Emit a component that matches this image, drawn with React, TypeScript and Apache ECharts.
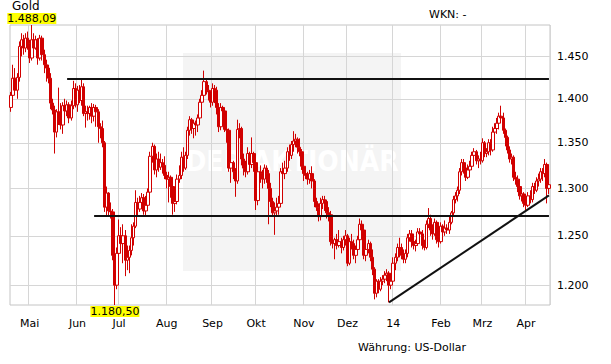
import React, { useEffect, useRef } from "react";
import * as echarts from "echarts";

// ---- data ----
const startDate = "2013-04-18";
const dayCount = 260;
const monthLabels = ["Mai", "Jun", "Jul", "Aug", "Sep", "Okt", "Nov", "Dez", "14", "Feb", "Mrz", "Apr"];
const labelMonths = [4, 5, 6, 7, 8, 9, 10, 11, 0, 1, 2, 3];
const yTicks = [1200, 1250, 1300, 1350, 1400, 1450];

const opens = [
  1390, 1404, 1424, 1410, 1425, 1462, 1470, 1460, 1472, 1465, 1448, 1470, 1460, 1470, 1448, 1472, 1452, 1440, 1436, 1424,
  1395, 1387, 1362, 1385, 1378, 1370, 1392, 1386, 1393, 1378, 1392, 1412, 1393, 1410, 1398, 1414, 1383, 1385, 1383, 1390,
  1380, 1390, 1385, 1368, 1366, 1350, 1280, 1295, 1276, 1275, 1230, 1200, 1232, 1250, 1242, 1250, 1225, 1228, 1235, 1248,
  1260, 1285, 1278, 1285, 1290, 1276, 1282, 1296, 1335, 1346, 1320, 1332, 1323, 1328, 1325, 1314, 1310, 1312, 1302, 1284,
  1286, 1310, 1314, 1334, 1322, 1336, 1364, 1376, 1366, 1372, 1370, 1378, 1396, 1404, 1420, 1410, 1408, 1396, 1412, 1410,
  1390, 1368, 1390, 1386, 1365, 1364, 1322, 1328, 1318, 1308, 1365, 1366, 1332, 1322, 1318, 1338, 1326, 1338, 1328, 1287,
  1318, 1316, 1310, 1322, 1316, 1300, 1286, 1274, 1276, 1280, 1284, 1318, 1316, 1322, 1340, 1336, 1348, 1352, 1354, 1345,
  1340, 1324, 1316, 1314, 1310, 1316, 1308, 1286, 1280, 1270, 1284, 1288, 1286, 1274, 1272, 1244, 1242, 1246, 1240, 1244,
  1238, 1246, 1250, 1222, 1244, 1242, 1230, 1236, 1246, 1262, 1256, 1230, 1236, 1242, 1228, 1216, 1192, 1204, 1196, 1204,
  1206, 1210, 1212, 1200, 1204, 1222, 1228, 1238, 1238, 1230, 1226, 1232, 1248, 1252, 1244, 1240, 1242, 1254, 1252, 1240,
  1238, 1262, 1268, 1256, 1252, 1264, 1246, 1244, 1260, 1254, 1258, 1256, 1264, 1274, 1288, 1292, 1298, 1318, 1328, 1322,
  1312, 1320, 1324, 1336, 1340, 1330, 1332, 1330, 1350, 1338, 1340, 1350, 1342, 1362, 1366, 1372, 1380, 1378, 1364, 1356,
  1342, 1332, 1334, 1312, 1310, 1302, 1292, 1294, 1284, 1282, 1292, 1288, 1302, 1298, 1308, 1310, 1318, 1316, 1326, 1300,
];
const highs = [
  1408, 1440, 1436, 1430, 1468, 1478, 1476, 1478, 1480, 1470, 1488.09, 1478, 1475, 1472, 1476, 1475, 1458, 1446, 1440, 1430,
  1400, 1392, 1388, 1413, 1395, 1396, 1400, 1398, 1396, 1398, 1421, 1418, 1415, 1416, 1424, 1418, 1392, 1392, 1392, 1395,
  1394, 1393, 1388, 1372, 1375, 1352, 1302, 1296, 1285, 1278, 1236, 1238, 1267, 1259, 1262, 1256, 1240, 1240, 1262, 1264,
  1298, 1290, 1292, 1295, 1294, 1292, 1300, 1340, 1350, 1348, 1338, 1340, 1338, 1332, 1335, 1318, 1318, 1314, 1305, 1290,
  1315, 1325, 1340, 1345, 1340, 1368, 1380, 1378, 1376, 1375, 1382, 1400, 1410, 1433, 1424, 1416, 1410, 1418, 1416, 1414,
  1395, 1395, 1392, 1388, 1370, 1366, 1332, 1330, 1322, 1376, 1372, 1368, 1338, 1330, 1345, 1340, 1356, 1340, 1330, 1322,
  1325, 1320, 1326, 1325, 1320, 1306, 1290, 1285, 1290, 1292, 1322, 1328, 1330, 1345, 1348, 1352, 1363, 1360, 1356, 1355,
  1343, 1328, 1322, 1318, 1320, 1324, 1310, 1290, 1284, 1290, 1292, 1292, 1288, 1280, 1276, 1250, 1248, 1252, 1256, 1248,
  1250, 1256, 1252, 1248, 1252, 1246, 1240, 1250, 1268, 1266, 1258, 1240, 1246, 1244, 1236, 1218, 1206, 1206, 1208, 1210,
  1214, 1216, 1214, 1206, 1228, 1232, 1242, 1248, 1242, 1236, 1236, 1252, 1256, 1256, 1248, 1246, 1258, 1258, 1256, 1246,
  1266, 1279, 1272, 1262, 1268, 1266, 1252, 1264, 1262, 1266, 1262, 1270, 1276, 1292, 1296, 1302, 1322, 1332, 1332, 1324,
  1326, 1330, 1340, 1344, 1342, 1336, 1340, 1355, 1352, 1344, 1354, 1354, 1368, 1372, 1378, 1384, 1392, 1384, 1366, 1358,
  1346, 1338, 1336, 1318, 1314, 1306, 1298, 1296, 1290, 1296, 1298, 1306, 1306, 1312, 1316, 1322, 1322, 1332, 1328, 1310,
];
const lows = [
  1385, 1398, 1405, 1400, 1420, 1450, 1452, 1455, 1458, 1442, 1445, 1455, 1458, 1440, 1445, 1445, 1430, 1420, 1418, 1388,
  1382, 1338, 1356, 1370, 1365, 1360, 1380, 1380, 1372, 1375, 1388, 1390, 1385, 1395, 1392, 1380, 1367, 1375, 1376, 1372,
  1374, 1368, 1350, 1355, 1345, 1275, 1270, 1270, 1268, 1225, 1180.5, 1196, 1228, 1235, 1222, 1209, 1215, 1212, 1230, 1240,
  1258, 1270, 1275, 1278, 1272, 1270, 1278, 1292, 1328, 1315, 1312, 1318, 1320, 1316, 1310, 1300, 1285, 1290, 1272, 1275,
  1283, 1306, 1310, 1318, 1320, 1332, 1358, 1360, 1355, 1358, 1362, 1375, 1390, 1400, 1405, 1398, 1390, 1392, 1395, 1382,
  1362, 1364, 1375, 1362, 1350, 1318, 1306, 1310, 1291, 1305, 1355, 1325, 1314, 1312, 1315, 1318, 1322, 1318, 1277, 1282,
  1306, 1300, 1305, 1306, 1262, 1280, 1270, 1251, 1270, 1272, 1281, 1312, 1310, 1318, 1330, 1332, 1340, 1345, 1338, 1335,
  1320, 1308, 1310, 1304, 1305, 1300, 1280, 1276, 1265, 1266, 1278, 1276, 1268, 1265, 1240, 1237, 1226, 1236, 1238, 1232,
  1235, 1240, 1219, 1220, 1236, 1226, 1222, 1232, 1244, 1250, 1226, 1224, 1232, 1224, 1210, 1186, 1188, 1192, 1194, 1200,
  1202, 1204, 1183, 1196, 1202, 1215, 1224, 1228, 1226, 1222, 1222, 1228, 1244, 1238, 1236, 1234, 1240, 1248, 1236, 1235,
  1236, 1258, 1250, 1246, 1250, 1242, 1238, 1242, 1250, 1250, 1252, 1252, 1262, 1270, 1284, 1286, 1294, 1314, 1316, 1308,
  1310, 1316, 1320, 1330, 1326, 1322, 1326, 1328, 1334, 1334, 1336, 1336, 1340, 1355, 1360, 1365, 1374, 1360, 1346, 1338,
  1328, 1326, 1308, 1304, 1296, 1288, 1286, 1280, 1277, 1280, 1284, 1285, 1294, 1296, 1302, 1306, 1308, 1312, 1284, 1294,
];
const closes = [
  1404, 1424, 1410, 1425, 1462, 1470, 1460, 1472, 1465, 1448, 1470, 1460, 1470, 1448, 1472, 1452, 1440, 1436, 1424, 1395,
  1387, 1362, 1385, 1378, 1370, 1392, 1386, 1393, 1378, 1392, 1412, 1393, 1410, 1398, 1414, 1383, 1385, 1383, 1390, 1380,
  1390, 1385, 1368, 1366, 1350, 1280, 1295, 1276, 1275, 1230, 1200, 1232, 1250, 1242, 1250, 1225, 1228, 1235, 1248, 1260,
  1285, 1278, 1285, 1290, 1276, 1282, 1296, 1335, 1346, 1320, 1332, 1323, 1328, 1325, 1314, 1310, 1312, 1302, 1284, 1286,
  1310, 1314, 1334, 1322, 1336, 1364, 1376, 1366, 1372, 1370, 1378, 1396, 1404, 1420, 1410, 1408, 1396, 1412, 1410, 1390,
  1368, 1390, 1386, 1365, 1364, 1322, 1328, 1318, 1308, 1365, 1366, 1332, 1322, 1318, 1338, 1326, 1338, 1328, 1287, 1318,
  1316, 1310, 1322, 1316, 1300, 1286, 1274, 1276, 1280, 1284, 1318, 1316, 1322, 1340, 1336, 1348, 1352, 1354, 1345, 1340,
  1324, 1316, 1314, 1310, 1316, 1308, 1286, 1280, 1270, 1284, 1288, 1286, 1274, 1272, 1244, 1242, 1246, 1240, 1244, 1238,
  1246, 1250, 1222, 1244, 1242, 1230, 1236, 1246, 1262, 1256, 1230, 1236, 1242, 1228, 1216, 1192, 1204, 1196, 1204, 1206,
  1210, 1212, 1200, 1204, 1222, 1228, 1238, 1238, 1230, 1226, 1232, 1248, 1252, 1244, 1240, 1242, 1254, 1252, 1240, 1238,
  1262, 1268, 1256, 1252, 1264, 1246, 1244, 1260, 1254, 1258, 1256, 1264, 1274, 1288, 1292, 1298, 1318, 1328, 1322, 1312,
  1320, 1324, 1336, 1340, 1330, 1332, 1330, 1350, 1338, 1340, 1350, 1342, 1362, 1366, 1372, 1380, 1378, 1364, 1356, 1342,
  1332, 1334, 1312, 1310, 1302, 1292, 1294, 1284, 1282, 1292, 1288, 1302, 1298, 1308, 1310, 1318, 1316, 1326, 1300, 1304,
];

// drawn annotation lines: [startIndex, startPrice, endIndex, endPrice]
const resistanceLine = [27, 1423, 259, 1423];
const supportLine = [40, 1270.5, 259, 1270.5];
const trendLine = [182, 1183, 259, 1292.5];

// ---- helpers ----
function tradingDays(start: string, count: number): string[] {
  const out: string[] = [];
  const d = new Date(start + "T12:00:00Z");
  while (out.length < count) {
    const wd = d.getUTCDay();
    if (wd !== 0 && wd !== 6) out.push(d.toISOString().slice(0, 10));
    d.setUTCDate(d.getUTCDate() + 1);
  }
  return out;
}
function thousands(s: string) {
  return s.replace(/\B(?=(\d{3})+(?!\d))/g, ".");
}
function fmt2(v: number) {
  const [i, d] = v.toFixed(2).split(".");
  return thousands(i) + "," + d;
}
function fmt0(v: number) {
  return thousands(String(Math.round(v)));
}

const dates = tradingDays(startDate, dayCount);
const monthOf = (s: string) => Number(s.slice(5, 7)) - 1;
const isMonthStart = (idx: number) => idx > 0 && monthOf(dates[idx]) !== monthOf(dates[idx - 1]);
const monthName = (s: string) => monthLabels[labelMonths.indexOf(monthOf(s))];

export default function App() {
  const ref = useRef<HTMLDivElement>(null);
  useEffect(() => {
    if (!ref.current) return;
    const chart = echarts.init(ref.current, null, { renderer: "svg" });
    const L = Math.log;
    const candles = closes.map((c, i) => [L(opens[i]), L(c), L(lows[i]), L(highs[i])]);
    const maxHigh = Math.max(...highs);
    const minLow = Math.min(...lows);
    const iMax = highs.indexOf(maxHigh);
    const iMin = lows.indexOf(minLow);
    const font = "DejaVu Sans";
    const red = "#d10000";
    const seg = (a: number[]) => [
      { coord: [a[0], L(a[1])] },
      { coord: [a[2], L(a[3])] },
    ];
    const tickVals = yTicks.map((v) => L(v));
    chart.setOption({
      animation: false,
      grid: {
        left: 10,
        top: 25,
        width: 540,
        height: 280,
        show: true,
        borderColor: "#c4c4c4",
        borderWidth: 1,
      },
      xAxis: {
        type: "category",
        data: dates,
        boundaryGap: true,
        axisLine: { show: false },
        axisTick: { show: false },
        axisLabel: {
          interval: (idx: number) => isMonthStart(idx),
          formatter: (v: string) => monthName(v),
          color: "#000",
          fontSize: 11,
          fontFamily: font,
          margin: 13,
        },
        splitLine: {
          show: true,
          interval: (idx: number) => isMonthStart(idx),
          lineStyle: { color: "#d6d6d6", width: 1 },
        },
      },
      yAxis: {
        type: "value",
        position: "right",
        min: L(minLow),
        max: L(maxHigh),
        axisLine: { show: false },
        axisTick: { show: false, customValues: tickVals },
        axisLabel: {
          customValues: tickVals,
          formatter: (v: number) => fmt0(Math.exp(v)),
          color: "#000",
          fontSize: 11,
          fontFamily: font,
          margin: 7,
        },
        splitLine: { show: true, lineStyle: { color: "#d6d6d6", width: 1 } },
      },
      series: [
        {
          type: "candlestick",
          data: candles,
          barWidth: 3,
          itemStyle: {
            color: "#ffffff",
            color0: red,
            borderColor: red,
            borderColor0: red,
            borderWidth: 1,
          },
          markLine: {
            silent: true,
            symbol: ["none", "none"],
            label: { show: false },
            lineStyle: { color: "#111", width: 2, type: "solid" },
            data: [seg(resistanceLine), seg(supportLine), seg(trendLine)],
          },
          markPoint: {
            silent: true,
            symbol: "circle",
            symbolSize: 0,
            label: {
              show: true,
              color: "#000",
              fontSize: 11,
              lineHeight: 11,
              fontFamily: font,
              backgroundColor: "#ffff00",
              padding: [0, 0, 0, 0],
              formatter: (p: any) => fmt2(p.value),
            },
            data: [
              { coord: [iMax, L(maxHigh)], value: maxHigh, label: { position: "top", distance: 1 } },
              { coord: [iMin, L(minLow)], value: minLow, label: { position: "bottom", distance: 1 } },
            ],
          },
        },
      ],
      graphic: [
        {
          type: "rect",
          z: -1,
          shape: { x: 183, y: 53, width: 218, height: 218 },
          style: { fill: "#f4f4f4" },
        },
        {
          type: "text",
          z: -1,
          x: 292,
          y: 161,
          style: {
            text: "DER AKTIONÄR",
            fill: "#ffffff",
            fontSize: 28,
            fontWeight: "bold",
            fontFamily: "DejaVu Sans Condensed",
            align: "center",
            verticalAlign: "middle",
          },
        },
        {
          type: "text",
          x: 12,
          y: 0,
          style: { text: "Gold", fill: "#000", fontSize: 12, lineHeight: 12, fontFamily: font, verticalAlign: "top" },
        },
        {
          type: "text",
          x: 429,
          y: 14,
          style: { text: "WKN: -", fill: "#000", fontSize: 11, fontFamily: font, verticalAlign: "middle" },
        },
        {
          type: "text",
          x: 358,
          y: 347,
          style: { text: "Währung: US-Dollar", fill: "#000", fontSize: 11, fontFamily: font, verticalAlign: "middle" },
        },
      ],
    });
    return () => chart.dispose();
  }, []);
  return (
    <div
      ref={ref}
      style={{ position: "fixed", left: 0, top: 0, width: 611, height: 364, background: "#fff" }}
    />
  );
}
